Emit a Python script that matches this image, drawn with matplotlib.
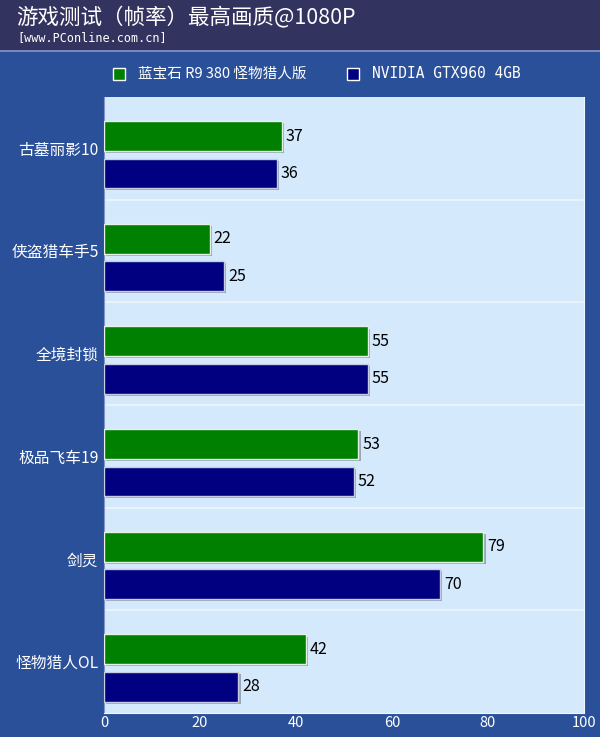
import matplotlib
matplotlib.use("Agg")
import matplotlib.pyplot as plt
from matplotlib.patches import Rectangle

plt.rcParams['font.family'] = ['Noto Sans CJK SC', 'DejaVu Sans']

title = "游戏测试（帧率）最高画质@1080P"
subtitle = "[www.PConline.com.cn]"
categories = ["古墓丽影10", "侠盗猎车手5", "全境封锁", "极品飞车19", "剑灵", "怪物猎人OL"]
series_names = ["蓝宝石 R9 380 怪物猎人版", "NVIDIA GTX960 4GB"]
series_a = [37, 22, 55, 53, 79, 42]
series_b = [36, 25, 55, 52, 70, 28]
xticks = [0, 20, 40, 60, 80, 100]

col_a = "#008000"
col_b = "#000080"
header_bg = "#33335f"
body_bg = "#2b509a"
plot_bg = "#d5e9fd"

W, H = 600, 737
fig = plt.figure(figsize=(W / 100, H / 100), dpi=100)
fig.patch.set_facecolor(body_bg)

# header band
fig.patches.append(Rectangle((0, 1 - 50 / H), 1, 50 / H, transform=fig.transFigure,
                             facecolor=header_bg, edgecolor='none', zorder=0))
fig.patches.append(Rectangle((0, 1 - 52 / H), 1, 2 / H, transform=fig.transFigure,
                             facecolor="#7a86b8", edgecolor='none', zorder=0))
fig.text(16 / W, 1 - 18 / H, title, color='white', fontsize=15.5, va='center', ha='left')
fig.text(17 / W, 1 - 38 / H, subtitle, color='white', fontsize=8.5, va='center', ha='left',
         family=['DejaVu Sans Mono'])

# legend
fig.patches.append(Rectangle((113 / W, 1 - 80 / H), 12 / W, 12 / H, transform=fig.transFigure,
                             facecolor=col_a, edgecolor='white', linewidth=1))
fig.text(138 / W, 1 - 74 / H, series_names[0], color='white', fontsize=10.5, va='center', ha='left')
fig.patches.append(Rectangle((347 / W, 1 - 80 / H), 12 / W, 12 / H, transform=fig.transFigure,
                             facecolor=col_b, edgecolor='white', linewidth=1))
fig.text(372 / W, 1 - 74 / H, series_names[1], color='white', fontsize=10.5, va='center', ha='left',
         family=['DejaVu Sans Mono'])

ax = fig.add_axes([104 / W, 1 - 713 / H, 480 / W, 616 / H])
ax.set_facecolor(plot_bg)
ax.set_xlim(0, 100)
n = len(categories)
ax.set_ylim(n, 0)

bh = 0.29
for i in range(n):
    ya = i + 0.38
    yb = i + 0.745
    # shadows
    ax.barh(ya + 0.02, series_a[i], height=bh, left=0.5, color='#9aa6b8', zorder=2)
    ax.barh(yb + 0.02, series_b[i], height=bh, left=0.5, color='#9aa6b8', zorder=2)
    ax.barh(ya, series_a[i], height=bh, color=col_a, edgecolor='#e6f0e6', linewidth=1, zorder=3)
    ax.barh(yb, series_b[i], height=bh, color=col_b, edgecolor='#c8cce0', linewidth=1, zorder=3)
    ax.text(series_a[i] + 0.8, ya, str(series_a[i]), va='center', ha='left', fontsize=11.5, color='black')
    ax.text(series_b[i] + 0.8, yb, str(series_b[i]), va='center', ha='left', fontsize=11.5, color='black')
    if i > 0:
        ax.axhline(i, color='#eef6ff', linewidth=1.2, zorder=1)

ax.set_yticks([i + 0.5 for i in range(n)])
ax.set_yticklabels(categories, color='white', fontsize=11.3)
ax.set_xticks(xticks)
ax.set_xticklabels([str(t) for t in xticks], color='white', fontsize=10.5)
ax.tick_params(length=0, pad=2)
ax.tick_params(axis='y', pad=4)
ax.spines['top'].set_visible(False)
ax.spines['left'].set_color('#7f95c8')
ax.spines['right'].set_color('#eef6ff')
ax.spines['bottom'].set_color('#eef6ff')

fig.savefig("out.png", dpi=100, facecolor=fig.get_facecolor())
